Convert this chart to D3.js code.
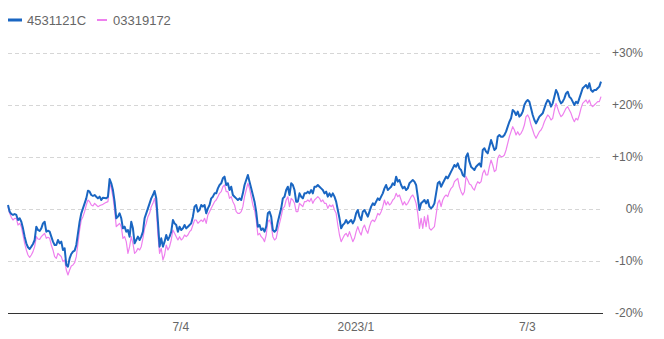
<!DOCTYPE html>
<html>
<head>
<meta charset="utf-8">
<script src="https://cdn.jsdelivr.net/npm/d3@7/dist/d3.min.js"></script>
<style>
  html, body { margin: 0; padding: 0; background: #fff; }
  svg { display: block; font-family: "Liberation Sans", Arial, sans-serif; }
</style>
</head>
<body>
<svg id="chart" width="664" height="339"></svg>
<script>
// Cumulative return (%) of two funds, sampled every 42 hours from 2022-01-04
const seriesNames = ["4531121C", "03319172"];
const seriesColors = ["#1a66c2", "#ee80ee"];
const startDate = new Date(2022, 0, 4);
const stepHours = 42;

const fundA = [
  0.77,-0.51,-0.96,-1.15,-0.96,-1.15,-2.12,-1.79,-2.44,-3.72,
  -5.32,-6.6,-7.37,-7.69,-7.24,-6.73,-5.96,-3.4,-4.04,-4.23,
  -3.72,-2.76,-2.44,-4.36,-4.17,-4.36,-5.32,-6.28,-6.92,-6.92,
  -5.96,-6.6,-6.28,-7.88,-7.56,-10.77,-11.09,-9.49,-8.65,-8.2,
  -8.01,-6.92,-4.68,-2.44,-0.83,0.13,1.09,2.05,3.53,3.33,
  2.69,2.5,2.69,2.37,2.05,
  2.37,1.73,2.18,2.12,2.05,2.37,5.77,4.94,3.65,1.41,
  -1.79,-1.47,-0.83,-1.79,-3.72,-3.4,-4.36,-4.04,-5.32,-2.44,
  -3.72,-6.6,-5.96,-5.32,-5.96,-5.32,-4.36,-1.79,-0.83,0.13,
  1.09,2.05,2.69,3.46,2.05,-2.44,-7.24,-5.64,-7.24,-6.28,
  -5.0,-5.96,-5.32,-4.36,-2.12,-2.76,-3.08,-4.36,-3.4,-4.04,
  -3.72,-3.08,-3.72,-3.4,-3.08,-2.76,-1.47,
  0.45,0.77,-0.51,-0.19,0.77,0.45,0.77,-0.83,0.13,0.77,
  2.05,2.37,3.01,3.01,3.97,4.62,4.94,5.9,6.22,4.62,
  4.94,3.65,4.29,2.69,2.37,2.05,1.73,2.05,1.73,3.01,
  4.62,5.58,6.54,5.26,3.97,2.69,1.41,-0.51,-3.4,-3.08,
  -4.04,-3.72,-4.36,-3.4,-0.83,-0.51,-1.47,-4.04,-4.36,-4.04,
  -2.44,-1.15,0.13,2.05,2.37,3.65,4.29,
  2.69,4.94,4.62,3.65,1.41,1.41,3.01,2.37,2.05,3.01,
  3.01,3.33,3.01,3.65,3.01,4.29,4.29,4.62,4.29,3.97,
  3.65,3.01,3.33,2.37,3.01,2.37,3.01,2.37,1.41,-0.19,
  -1.79,-3.72,-3.08,-2.76,-2.12,-2.76,-2.44,-2.12,-2.76,-2.12,
  -0.83,-0.19,-1.47,-2.12,-0.51,-0.19,-0.83,-1.47,-0.51,0.45,
  1.09,0.77,1.41,2.05,1.73,2.37,3.01,
  3.97,4.62,3.65,3.97,4.29,4.94,4.62,6.22,5.26,5.58,
  4.62,3.97,4.29,3.65,3.97,4.94,5.26,5.58,5.26,4.62,
  2.37,-0.19,1.09,1.41,1.73,1.09,1.73,0.45,0.13,0.45,
  1.09,3.01,4.94,5.26,4.29,4.94,5.58,6.22,5.9,6.54,
  7.18,7.82,8.46,8.14,8.78,7.82,
  7.5,6.54,6.22,10.06,10.7,9.1,8.14,7.82,7.5,8.14,
  8.46,8.78,8.14,11.35,11.67,11.03,10.7,11.99,13.27,12.31,
  11.35,11.67,13.91,14.23,13.91,13.91,14.23,14.87,15.83,16.79,
  17.44,19.04,18.72,18.08,18.72,17.76,18.08,18.72,20.0,20.64,
  20.96,20.64,19.36,18.08,17.12,16.47,17.12,17.76,18.08,18.4,
  19.36,20.32,20.96,20.64,19.68,20.32,21.6,22.88,22.24,20.96,
  20.32,20.64,21.28,22.24,22.56,21.6,21.28,20.64,20.0,20.64,
  20.32,21.28,22.24,23.21,23.53,23.85,23.21,24.17,22.88,22.56,
  22.88,22.88,23.21,23.53,24.49
];

const fundB = [
  0.45,-0.83,-1.6,-2.12,-1.79,-1.79,-3.08,-2.76,-3.4,-5.0,
  -6.6,-7.88,-8.85,-9.29,-8.85,-8.2,-7.24,-5.32,-5.77,-5.83,
  -5.32,-5.0,-4.68,-5.64,-5.45,-5.64,-6.92,-7.88,-9.17,-9.49,
  -8.52,-8.85,-9.17,-10.13,-9.81,-11.73,-12.69,-11.73,-10.96,-10.77,
  -10.33,-9.17,-6.6,-4.04,-2.12,-1.47,-0.51,0.77,1.73,1.41,
  0.77,0.58,1.09,0.77,0.45,
  0.64,0.77,0.9,1.09,1.28,1.41,4.94,3.97,2.37,-0.19,
  -3.4,-3.08,-2.76,-3.4,-5.64,-5.32,-6.28,-8.53,-7.24,-5.32,
  -6.6,-8.53,-8.2,-7.56,-7.88,-7.24,-5.64,-3.72,-2.76,-1.47,
  -0.83,0.45,1.09,2.05,0.13,-5.0,-8.53,-7.56,-9.81,-8.85,
  -6.92,-7.88,-7.24,-5.96,-4.04,-4.68,-5.32,-5.96,-5.32,-5.96,
  -5.64,-5.0,-5.32,-5.0,-4.36,-4.04,-3.08,
  -2.12,-2.12,-2.76,-2.44,-2.12,-2.44,-1.79,-2.76,-1.15,-0.51,
  0.13,0.77,1.41,1.73,2.37,3.01,3.33,4.29,4.62,3.33,
  3.33,2.05,2.37,1.41,0.77,-0.51,-0.83,-0.83,-0.51,0.45,
  2.37,3.65,4.94,3.97,2.37,0.77,-0.19,-2.12,-5.0,-4.68,
  -5.32,-5.64,-6.28,-5.0,-2.44,-2.12,-3.08,-5.32,-5.96,-5.64,
  -4.04,-2.76,-1.47,0.13,0.45,1.73,2.37,
  0.45,2.05,1.73,1.09,-0.51,-0.51,1.09,0.77,0.45,1.41,
  1.41,1.73,1.41,2.05,1.09,1.73,2.05,2.37,2.05,1.41,
  1.73,1.09,1.09,0.13,0.77,0.45,0.77,-0.19,-0.83,-3.08,
  -5.0,-6.28,-5.64,-5.0,-4.68,-5.32,-4.36,-5.32,-6.28,-5.64,
  -4.36,-3.4,-4.36,-5.0,-3.72,-3.08,-4.04,-4.68,-3.4,-2.44,
  -2.12,-2.44,-1.79,-0.83,-1.15,-0.51,0.45,
  1.73,0.77,1.41,0.77,1.09,1.73,2.05,3.01,2.37,2.69,
  1.73,0.77,1.41,0.77,1.09,1.73,2.37,2.69,2.05,1.09,
  -0.83,-3.72,-1.79,-3.72,-1.47,-3.4,-1.15,-3.72,-4.04,-3.72,
  -3.4,-1.15,1.09,1.73,0.45,1.73,2.37,2.69,2.37,3.33,
  3.97,4.29,5.26,5.58,5.9,4.3,
  3.33,2.69,3.33,6.22,5.58,4.81,4.62,3.97,3.65,4.62,
  5.26,4.94,5.26,6.86,7.5,6.54,6.54,8.14,9.42,8.46,
  7.18,7.5,9.74,10.38,10.06,10.06,10.38,11.35,12.63,13.91,
  14.87,15.83,15.19,14.23,14.87,14.23,14.55,15.19,16.15,17.76,
  18.08,17.44,16.15,15.19,14.23,13.59,14.23,14.87,15.19,15.83,
  16.79,17.44,18.08,17.76,17.12,17.44,19.04,20.32,19.36,18.4,
  17.76,18.08,18.72,19.36,19.68,19.04,18.4,17.44,16.79,17.44,
  17.12,18.08,19.36,20.32,20.64,20.96,20.32,20.96,20.0,19.68,
  20.0,20.32,20.64,20.64,21.6
];

const xTickDates = [new Date(2022, 6, 4), new Date(2023, 0, 4), new Date(2023, 6, 3)];
const xTickLabels = ["7/4", "2023/1", "7/3"];
const yTicks = [-20, -10, 0, 10, 20, 30];
const yTickLabels = ["-20%", "-10%", "0%", "+10%", "+20%", "+30%"];

const dates = fundA.map((_, i) => d3.timeHour.offset(startDate, i * stepHours));

const plot = { left: 8, right: 601, top: 53, bottom: 313 };
const svg = d3.select("#chart");

const x = d3.scaleTime()
  .domain([dates[0], dates[dates.length - 1]])
  .range([plot.left, plot.right]);
const y = d3.scaleLinear()
  .domain([-20, 30])
  .range([plot.bottom, plot.top]);

// horizontal grid
const grid = svg.append("g");
grid.selectAll("line")
  .data(yTicks)
  .join("line")
  .attr("x1", plot.left)
  .attr("x2", plot.right + 2)
  .attr("y1", d => Math.round(y(d)) + 0.5)
  .attr("y2", d => Math.round(y(d)) + 0.5)
  .attr("stroke", d => d === -20 ? "#333" : "#d6d6d6")
  .attr("stroke-width", 1)
  .attr("stroke-dasharray", d => d === -20 ? null : "4,3");

// right-hand value axis
const yAxis = svg.append("g")
  .attr("transform", `translate(643,0)`)
  .call(d3.axisRight(y).tickValues(yTicks)
    .tickFormat((d, i) => yTickLabels[i]).tickSize(0).tickPadding(0));
yAxis.select(".domain").remove();
yAxis.selectAll("text")
  .attr("text-anchor", "end")
  .attr("fill", "#666")
  .style("font-size", "12px");

// date axis
const xAxis = svg.append("g")
  .attr("transform", `translate(0,${plot.bottom})`)
  .call(d3.axisBottom(x).tickValues(xTickDates)
    .tickFormat((d, i) => xTickLabels[i]).tickSize(0).tickPadding(9));
xAxis.select(".domain").remove();
xAxis.selectAll("text")
  .attr("fill", "#666")
  .style("font-size", "12px");

// lines
const line = d3.line()
  .x((d, i) => x(dates[i]))
  .y(d => y(d));

svg.append("path")
  .datum(fundB)
  .attr("fill", "none")
  .attr("stroke", seriesColors[1])
  .attr("stroke-width", 1.2)
  .attr("stroke-linejoin", "round")
  .attr("d", line);

svg.append("path")
  .datum(fundA)
  .attr("fill", "none")
  .attr("stroke", seriesColors[0])
  .attr("stroke-width", 2)
  .attr("stroke-linejoin", "round")
  .attr("d", line);

// legend
const legendItems = [
  { sx: 8, sw: 14, sh: 3, tx: 27 },
  { sx: 97, sw: 10, sh: 2, tx: 113 }
];
const legend = svg.append("g");
legendItems.forEach((it, i) => {
  legend.append("rect")
    .attr("x", it.sx).attr("y", 20 - it.sh / 2)
    .attr("width", it.sw).attr("height", it.sh)
    .attr("fill", seriesColors[i]);
  legend.append("text")
    .attr("x", it.tx).attr("y", 25)
    .attr("fill", "#666")
    .style("font-size", "13px")
    .text(seriesNames[i]);
});
</script>
</body>
</html>
